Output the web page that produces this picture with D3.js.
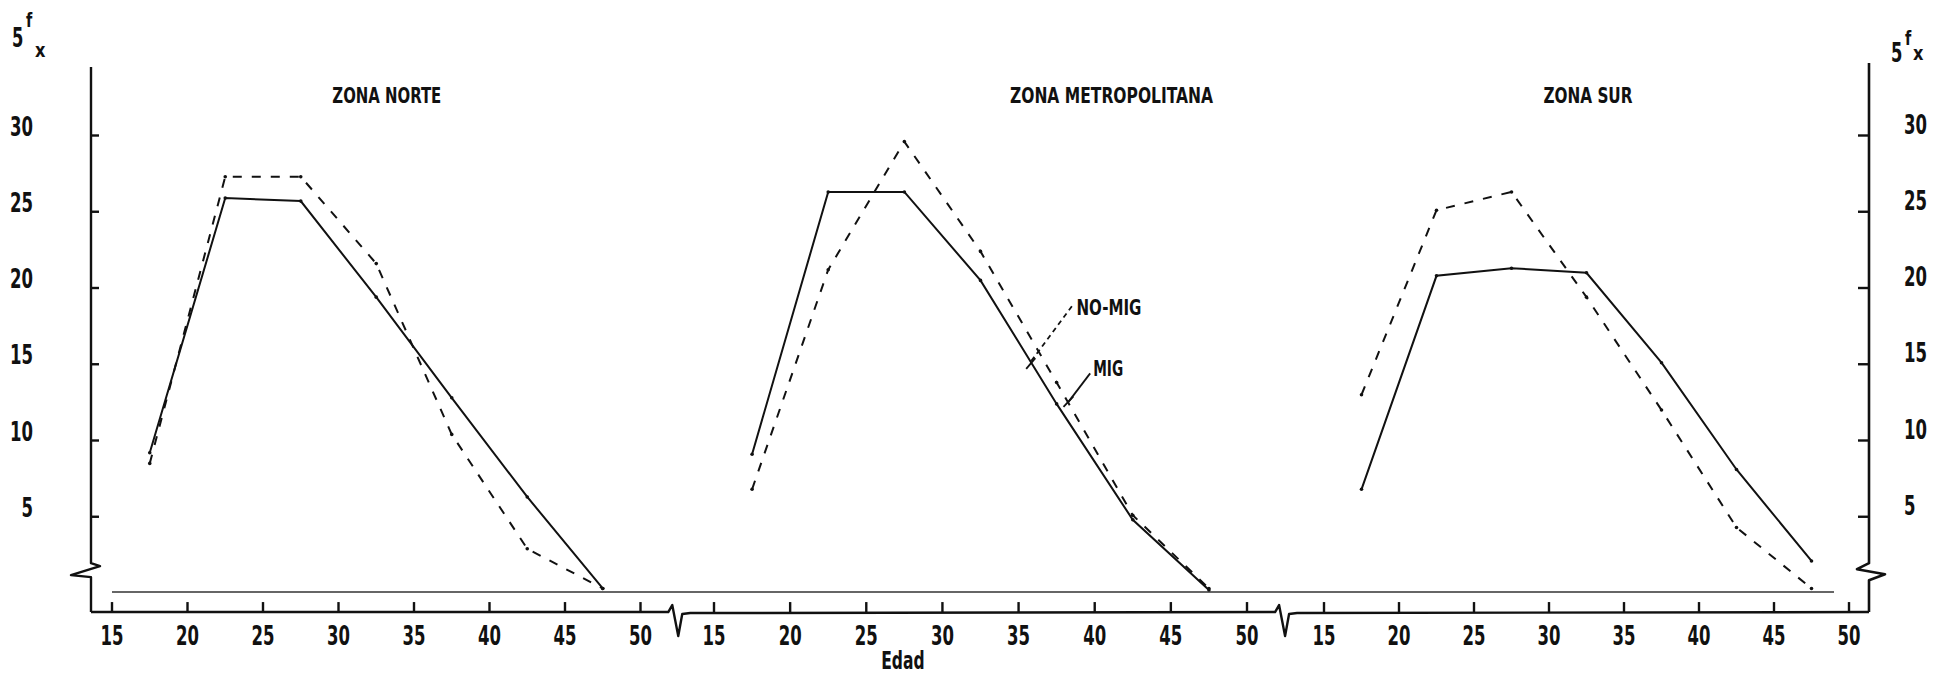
<!DOCTYPE html>
<html><head><meta charset="utf-8">
<script src="https://cdn.jsdelivr.net/npm/d3@7"></script>
<style>html,body{margin:0;padding:0;background:#fff;}svg{display:block;}</style>
</head><body>
<svg id="c" width="1948" height="674"></svg>
<script>
// ---- data ----
const ages = [17.5, 22.5, 27.5, 32.5, 37.5, 42.5, 47.5];
const zones = ["ZONA NORTE", "ZONA METROPOLITANA", "ZONA SUR"];
const migNorte   = [9.2, 25.9, 25.7, 19.4, 12.8, 6.3, 0.3];
const noMigNorte = [8.5, 27.3, 27.3, 21.6, 10.4, 2.9, 0.3];
const migMetro   = [9.1, 26.3, 26.3, 20.5, 12.4, 4.8, 0.2];
const noMigMetro = [6.8, 21.2, 29.6, 22.4, 13.8, 5.1, 0.3];
const migSur     = [6.8, 20.8, 21.3, 21.0, 15.1, 8.1, 2.1];
const noMigSur   = [13.0, 25.1, 26.3, 19.4, 12.0, 4.3, 0.3];
const xTicks = [15, 20, 25, 30, 35, 40, 45, 50];
const yTicks = [5, 10, 15, 20, 25, 30];
const xLabel = "Edad";
const yLabelMain = "5", yLabelSup = "f", yLabelSub = "x";
const seriesLabels = ["NO-MIG", "MIG"];

// ---- layout ----
const svg = d3.select("#c");
const ink = "#111";
const FONT = "'DejaVu Sans Condensed','DejaVu Sans',sans-serif";
const y = d3.scaleLinear().domain([0, 30]).range([593, 135.5]);
const panelRanges = [[112, 640.5], [714, 1247], [1324, 1849]];
const xs = panelRanges.map(r => d3.scaleLinear().domain([15, 50]).range(r));
const leftX = 91, rightX = 1869;
const axisY = y(-1.25);
const panels = [
  {title: zones[0], mig: migNorte, nomig: noMigNorte, titleAge: 33.2},
  {title: zones[1], mig: migMetro, nomig: noMigMetro, titleAge: 41.1},
  {title: zones[2], mig: migSur, nomig: noMigSur, titleAge: 32.6}
];
const titleLen = [109, 203, 89];

function txt(g, x, yy, s, size, sx, anchor, weight) {
  return g.append("text")
    .attr("transform", `translate(${x},${yy}) scale(${sx},1)`)
    .attr("text-anchor", anchor || "middle")
    .attr("font-family", FONT).attr("font-size", size)
    .attr("font-weight", weight || "bold")
    .attr("fill", ink).text(s);
}

const g = svg.append("g");

// baseline (value 0) reference line
g.append("line")
  .attr("x1", xs[0](15)).attr("x2", xs[2](49))
  .attr("y1", y(0) - 1).attr("y2", y(0) - 1)
  .attr("stroke", ink).attr("stroke-width", 1.4).attr("opacity", 0.85);

// bottom axis with break glyphs
const b1 = xs[0](52.5), b2 = xs[1](52.5);
function brk(bx) {
  return `L${bx - 10},${axisY} L${bx - 6},${axisY - 7} L${bx},${axisY + 24} L${bx + 4},${axisY + 2} L${bx + 12},${axisY + 1}`;
}
g.append("path")
  .attr("d", `M${leftX},${axisY} ${brk(b1)} ${brk(b2)} L${rightX},${axisY}`)
  .attr("fill", "none").attr("stroke", ink).attr("stroke-width", 2.4).attr("stroke-linejoin", "round");

// left axis with break
const brY = y(1.3);
g.append("path")
  .attr("d", `M${leftX},${y(34.5)} L${leftX},${brY - 10} L${leftX + 9},${brY - 7} L${leftX - 20},${brY + 2} L${leftX},${brY + 4} L${leftX},${axisY}`)
  .attr("fill", "none").attr("stroke", ink).attr("stroke-width", 2.4).attr("stroke-linejoin", "round");
// right axis with break
g.append("path")
  .attr("d", `M${rightX},${y(34.75)} L${rightX},${brY - 10} L${rightX - 12},${brY - 4} L${rightX + 16},${brY + 1} L${rightX},${brY + 7} L${rightX},${axisY}`)
  .attr("fill", "none").attr("stroke", ink).attr("stroke-width", 2.6).attr("stroke-linejoin", "round");

// y ticks + labels
yTicks.forEach(v => {
  g.append("line").attr("x1", leftX).attr("x2", leftX + 8).attr("y1", y(v)).attr("y2", y(v))
    .attr("stroke", ink).attr("stroke-width", 2.4);
  g.append("line").attr("x1", rightX - 11).attr("x2", rightX).attr("y1", y(v)).attr("y2", y(v))
    .attr("stroke", ink).attr("stroke-width", 2.4);
  txt(g, 33, y(v), String(v), 27, 0.68, "end");
  txt(g, 1904, y(v) - 2, String(v), 27, 0.68, "start");
});

// y label 5 f x
function yLab(x0, base, supDy, subDx, subDy) {
  txt(g, x0, base, yLabelMain, 26, 0.7, "start");
  txt(g, x0 + 14, base + supDy, yLabelSup, 20, 0.8, "start");
  txt(g, x0 + subDx, base + subDy, yLabelSub, 20, 0.9, "start");
}
yLab(12, 47, -20, 23, 10);
yLab(1891, 62, -17, 22, -2);

// x ticks + labels per panel
xs.forEach(xsc => {
  xTicks.forEach(t => {
    g.append("line").attr("x1", xsc(t)).attr("x2", xsc(t)).attr("y1", axisY).attr("y2", axisY - 10)
      .attr("stroke", ink).attr("stroke-width", 2.4);
    txt(g, xsc(t), 645, String(t), 27, 0.68, "middle");
  });
});

// x label
txt(g, xs[1](27.4), 669, xLabel, 24, 0.72, "middle", "bold");

// series
const line = xsc => d3.line().x((d, i) => xsc(ages[i])).y(d => y(d));
panels.forEach((p, k) => {
  const xsc = xs[k];
  g.append("path").attr("d", line(xsc)(p.nomig))
    .attr("fill", "none").attr("stroke", ink).attr("stroke-width", 2)
    .attr("stroke-dasharray", "9,10");
  g.append("path").attr("d", line(xsc)(p.mig))
    .attr("fill", "none").attr("stroke", ink).attr("stroke-width", 2);
  [p.nomig, p.mig].forEach(s => {
    g.selectAll(null).data(s).enter().append("circle")
      .attr("cx", (d, i) => xsc(ages[i])).attr("cy", d => y(d)).attr("r", 1.8).attr("fill", ink);
  });
  // title
  const cx = xsc(p.titleAge), L = titleLen[k];
  g.append("text").attr("x", cx - L / 2).attr("y", y(32.15))
    .attr("font-family", FONT).attr("font-size", 22).attr("font-weight", "bold")
    .attr("textLength", L).attr("lengthAdjust", "spacingAndGlyphs")
    .attr("fill", ink).text(p.title);
});

// annotations in Metro panel
const xm = xs[1];
g.append("line").attr("x1", xm(38.5)).attr("y1", y(18.8)).attr("x2", xm(35.75)).attr("y2", y(15.1))
  .attr("stroke", ink).attr("stroke-width", 1.8).attr("stroke-dasharray", "5,4");
g.append("line").attr("x1", xm(35.5)).attr("y1", y(14.7)).attr("x2", xm(36.1)).attr("y2", y(15.4))
  .attr("stroke", ink).attr("stroke-width", 1.8);
g.append("line").attr("x1", xm(39.7)).attr("y1", y(14.4)).attr("x2", xm(38.25)).attr("y2", y(12.5))
  .attr("stroke", ink).attr("stroke-width", 1.8);
g.append("line").attr("x1", xm(37.95)).attr("y1", y(12.2)).attr("x2", xm(38.6)).attr("y2", y(12.9))
  .attr("stroke", ink).attr("stroke-width", 1.8);
g.append("text").attr("x", xm(38.8)).attr("y", y(18.2))
  .attr("font-family", FONT).attr("font-size", 22).attr("font-weight", "bold")
  .attr("textLength", 65).attr("lengthAdjust", "spacingAndGlyphs").attr("fill", ink).text(seriesLabels[0]);
g.append("text").attr("x", xm(39.9)).attr("y", y(14.2))
  .attr("font-family", FONT).attr("font-size", 22).attr("font-weight", "bold")
  .attr("textLength", 30).attr("lengthAdjust", "spacingAndGlyphs").attr("fill", ink).text(seriesLabels[1]);
</script>
</body></html>
